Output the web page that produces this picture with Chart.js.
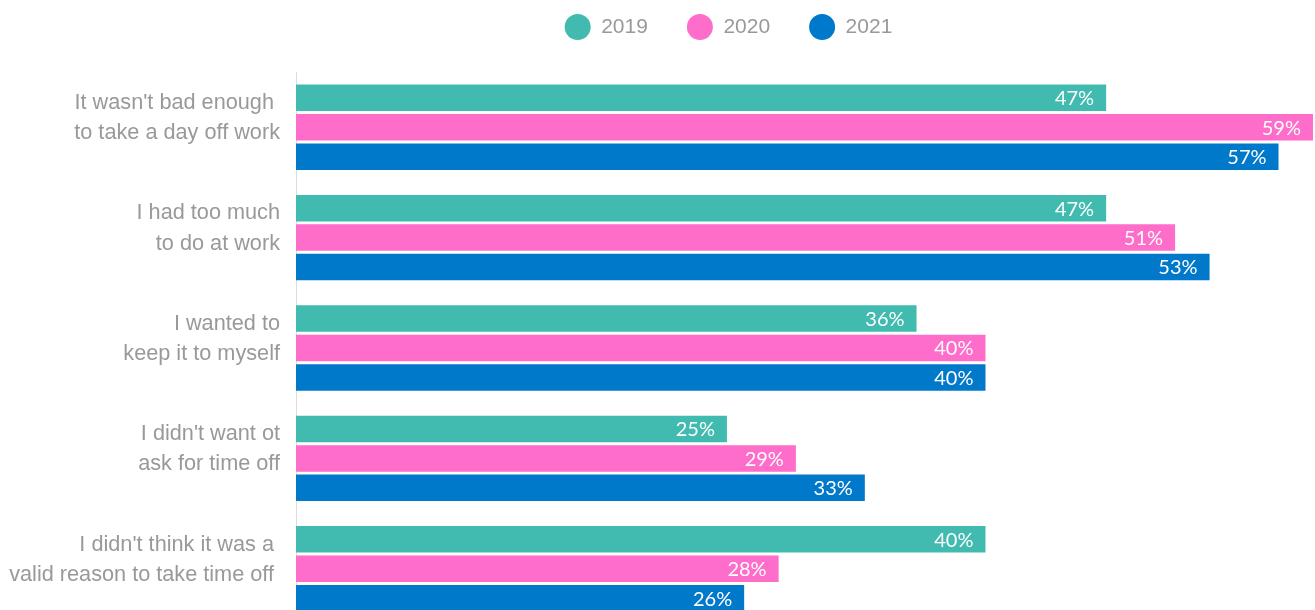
<!DOCTYPE html>
<html>
<head>
<meta charset="utf-8">
<script src="https://cdn.jsdelivr.net/npm/chart.js@4/dist/chart.umd.min.js"></script>
<style>
html,body{margin:0;padding:0;background:#fff;overflow:hidden;}
canvas{display:block;position:absolute;left:0;top:0;}
</style>
</head>
<body>
<canvas id="c" width="1315" height="624"></canvas>
<script>
const categories = [
  ["It wasn't bad enough ", "to take a day off work"],
  ["I had too much", "to do at work"],
  ["I wanted to", "keep it to myself"],
  ["I didn't want ot", "ask for time off"],
  ["I didn't think it was a ", "valid reason to take time off "]
];
const seriesNames = ["2019", "2020", "2021"];
const values2019 = [47, 47, 36, 25, 40];
const values2020 = [59, 51, 40, 29, 28];
const values2021 = [57, 53, 40, 33, 26];
const colors = ["#41bbaf", "#fd6dc9", "#0079cb"];

const legendSpacing = {
  id: 'legendSpacing',
  beforeInit(chart) {
    const lg = chart.legend;
    if (!lg) return;
    const origFit = lg.fit;
    lg.fit = function () {
      origFit.call(this);
      this.height += 24.5;
    };
  },
  afterLayout(chart) {
    const lg = chart.legend;
    if (!lg) return;
    lg.left += 72;
    lg.right += 72;
  }
};

const valueLabels = {
  id: 'valueLabels',
  afterDatasetsDraw(chart) {
    const ctx = chart.ctx;
    ctx.save();
    ctx.font = '20px Lato, "Open Sans", sans-serif';
    ctx.fillStyle = '#ffffff';
    ctx.textAlign = 'right';
    ctx.textBaseline = 'middle';
    chart.data.datasets.forEach((ds, i) => {
      const meta = chart.getDatasetMeta(i);
      meta.data.forEach((bar, j) => {
        ctx.fillText(ds.data[j] + '%', bar.x - 12, bar.y + 1);
      });
    });
    ctx.restore();
  }
};

new Chart(document.getElementById('c'), {
  type: 'bar',
  data: {
    labels: categories,
    datasets: [
      {label: seriesNames[0], data: values2019, backgroundColor: colors[0]},
      {label: seriesNames[1], data: values2020, backgroundColor: colors[1]},
      {label: seriesNames[2], data: values2021, backgroundColor: colors[2]}
    ]
  },
  options: {
    indexAxis: 'y',
    responsive: false,
    animation: false,
    layout: {padding: {left: 0, right: 2, top: -22.5, bottom: 0}},
    datasets: {bar: {categoryPercentage: 0.8, barPercentage: 0.9}},
    scales: {
      x: {
        min: 0, max: 59,
        display: false
      },
      y: {
        afterFit(scale) { scale.width = 296; scale.paddingTop = 0; scale.paddingBottom = 0; },
        grid: {display: false, drawTicks: false},
        border: {display: true, color: '#dddddd', width: 1},
        ticks: {
          color: '#999999',
          font: {family: '"Liberation Sans", Arial, sans-serif', size: 21.7, lineHeight: 1.39},
          padding: 16,
          labelOffset: -9
        }
      }
    },
    plugins: {
      legend: {
        position: 'top',
        labels: {
          usePointStyle: true,
          pointStyle: 'circle',
          boxHeight: 18.4,
          pointStyleWidth: 26,
          padding: 39,
          color: '#999999',
          font: {family: '"Liberation Sans", Arial, sans-serif', size: 21}
        }
      },
      tooltip: {enabled: false}
    }
  },
  plugins: [legendSpacing, valueLabels]
});
</script>
</body>
</html>
